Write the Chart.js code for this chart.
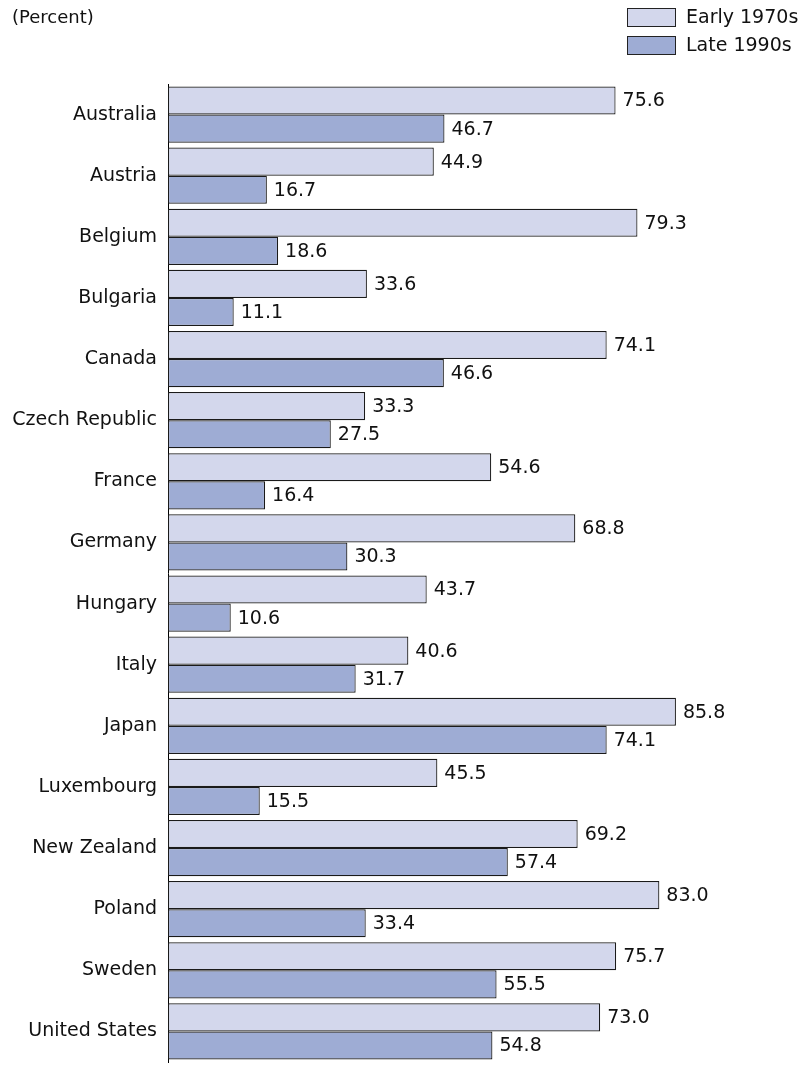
<!DOCTYPE html>
<html><head><meta charset="utf-8">
<script src="https://cdn.jsdelivr.net/npm/chart.js@4"></script>
<style>html,body{margin:0;padding:0;background:#fff}#wrap{width:801px;height:1065px;position:relative}</style>
</head><body><div id="wrap"><canvas id="c" width="801" height="1065"></canvas></div>
<script>
const categories = ["Australia","Austria","Belgium","Bulgaria","Canada","Czech Republic","France","Germany","Hungary","Italy","Japan","Luxembourg","New Zealand","Poland","Sweden","United States"];
const early1970s = [75.6,44.9,79.3,33.6,74.1,33.3,54.6,68.8,43.7,40.6,85.8,45.5,69.2,83.0,75.7,73.0];
const late1990s = [46.7,16.7,18.6,11.1,46.6,27.5,16.4,30.3,10.6,31.7,74.1,15.5,57.4,33.4,55.5,54.8];
const seriesNames = ["Early 1970s","Late 1990s"];
const unitLabel = "(Percent)";
const FONT = "'DejaVu Sans', sans-serif";

const labelPlugin = {
  id: 'valLabels',
  afterDatasetsDraw(chart) {
    const ctx = chart.ctx;
    ctx.save();
    ctx.font = "19px " + FONT;
    ctx.fillStyle = "#111";
    ctx.textAlign = "left";
    ctx.textBaseline = "middle";
    chart.data.datasets.forEach((ds, i) => {
      chart.getDatasetMeta(i).data.forEach((bar, j) => {
        ctx.fillText(ds.data[j].toFixed(1), bar.x + 7, bar.y + 1);
      });
    });
    ctx.restore();
  }
};
const extrasPlugin = {
  id: 'extras',
  afterDraw(chart) {
    const ctx = chart.ctx;
    ctx.save();
    ctx.font = "18px " + FONT;
    ctx.fillStyle = "#111";
    ctx.textBaseline = "middle";
    ctx.fillText(unitLabel, 12, 18);
    chart.data.datasets.forEach((ds, i) => {
      const y = 8 + i * 28;
      ctx.fillStyle = ds.backgroundColor;
      ctx.fillRect(627, y, 49, 19);
      ctx.strokeStyle = "#222";
      ctx.lineWidth = 1;
      ctx.strokeRect(627.5, y + 0.5, 48, 18);
      ctx.fillStyle = "#111";
      ctx.font = "19px " + FONT;
      ctx.fillText(ds.label, 686, y + 10);
    });
    ctx.restore();
  }
};

new Chart(document.getElementById('c'), {
  type: 'bar',
  data: {
    labels: categories,
    datasets: [
      { label: seriesNames[0], data: early1970s, backgroundColor: '#d3d7ec', borderColor: '#1a1a1a', borderWidth: 1.2, borderSkipped: false },
      { label: seriesNames[1], data: late1990s, backgroundColor: '#9eacd4', borderColor: '#1a1a1a', borderWidth: 1.2, borderSkipped: false }
    ]
  },
  options: {
    indexAxis: 'y',
    responsive: false,
    animation: false,
    layout: { padding: { top: 84, bottom: 3, right: 41, left: 0 } },
    categoryPercentage: 0.92,
    barPercentage: 1.0,
    plugins: { legend: { display: false }, tooltip: { enabled: false } },
    scales: {
      x: { display: false, min: 0, max: 100 },
      y: {
        grid: { display: false, drawTicks: false },
        border: { display: true, color: '#000', width: 1 },
        ticks: { padding: 11, color: '#111', font: { family: FONT, size: 19 } },
        afterFit(scale) { scale.width = 168; scale.paddingTop = 0; scale.paddingBottom = 0; }
      }
    }
  },
  plugins: [labelPlugin, extrasPlugin]
});
</script></body></html>
